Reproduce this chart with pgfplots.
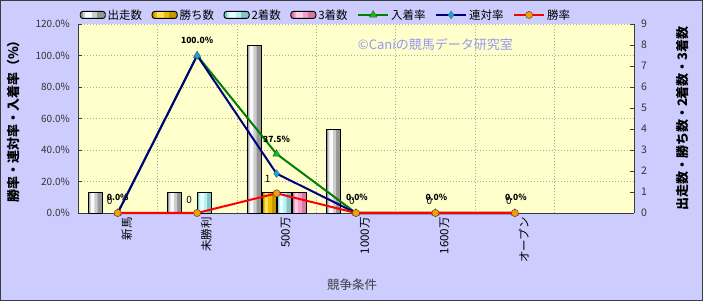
\documentclass[border=0pt]{standalone}
\usepackage{fontspec}
\setmainfont{Noto Sans CJK JP}
\usepackage{pgfplots}
\pgfplotsset{compat=1.18}

\definecolor{outerbg}{RGB}{204,204,255}
\definecolor{plotbg}{RGB}{255,255,204}
\definecolor{framec}{RGB}{60,60,60}
\definecolor{gridc}{RGB}{170,170,160}
\definecolor{copyc}{RGB}{150,150,245}
% bar gradients: dark / mid / light
\definecolor{runD}{RGB}{150,150,150}
\definecolor{runM}{RGB}{205,205,205}
\definecolor{runL}{RGB}{250,250,250}
\definecolor{winD}{RGB}{200,150,0}
\definecolor{winM}{RGB}{240,190,0}
\definecolor{winL}{RGB}{255,225,90}
\definecolor{secD}{RGB}{130,195,195}
\definecolor{secM}{RGB}{185,240,240}
\definecolor{secL}{RGB}{230,255,255}
\definecolor{thrD}{RGB}{215,120,165}
\definecolor{thrM}{RGB}{245,160,200}
\definecolor{thrL}{RGB}{255,205,230}
\definecolor{greenl}{RGB}{0,128,0}
\definecolor{greenm}{RGB}{0,204,0}
\definecolor{navyl}{RGB}{0,0,128}
\definecolor{orangem}{RGB}{255,153,0}

\pgfplotsset{
  base/.style={scale only axis, width=556bp, height=189bp, xmin=-0.5, xmax=6.5,
    axis line style={framec, line width=0.8bp},
    tick style={framec, line width=0.6bp},
    major tick length=4bp, tick align=inside,
    /pgf/number format/assume math mode=true},
  barleg/.style n args={3}{legend image code/.code={
    \fill[#1, rounded corners=2.5bp] (0bp,-3.5bp) rectangle (25bp,3.5bp);
    \fill[#2] (3bp,-2.6bp) rectangle (16bp,2.6bp);
    \fill[#3] (5bp,-2.6bp) rectangle (11bp,2.6bp);
    \draw[black, line width=0.9bp, rounded corners=2.5bp] (0bp,-3.5bp) rectangle (25bp,3.5bp);}},
  lineleg/.style={legend image code/.code={\draw[mark repeat=2,mark phase=2,##1] plot coordinates {(0bp,0bp) (15bp,0bp) (30bp,0bp)};}},
}
\newcommand{\fs}[1]{\fontsize{#1}{#1}\selectfont}
% shaded-looking bar: shift, dark, mid, light, coordinates
\newcommand{\gbar}[5]{%
  \addplot[ybar, bar width=14bp, bar shift=#1bp, fill=#2, draw=none] coordinates {#5};
  \addplot[ybar, bar width=8bp, bar shift=#1bp-1.5bp, fill=#3, draw=none] coordinates {#5};
  \addplot[ybar, bar width=3.5bp, bar shift=#1bp-2.5bp, fill=#4, draw=none] coordinates {#5};
  \addplot[ybar, bar width=14bp, bar shift=#1bp, fill=none, draw=black, line width=0.9bp] coordinates {#5};
}

\begin{document}
\begin{tikzpicture}
\useasboundingbox (-78bp,-88bp) rectangle (625bp,213bp);
\fill[outerbg] (-78bp,-88bp) rectangle (625bp,213bp);
\draw[framec, line width=1.5bp] (-77.25bp,-87.25bp) rectangle (624.25bp,212.25bp);

% background axis: left scale, grid
\begin{axis}[base, ymin=0, ymax=120,
  axis background/.style={fill=plotbg},
  axis x line*=bottom, axis y line*=left,
  ytick={0,20,...,120},
  yticklabel={\pgfmathprintnumber[fixed,fixed zerofill,precision=1]{\tick}\%},
  yticklabel style={font=\fs{10bp}, text=black!80, inner sep=0pt, anchor=east, xshift=-8bp},
  xtick={0.5,1.5,...,5.5}, xticklabels={}, x tick style={draw=none},
  xmajorgrids, ymajorgrids,
  grid style={gridc, dash pattern=on 1.5bp off 1.5bp, line width=0.6bp},
  ylabel={\bfseries 勝率・連対率・入着率（\%）},
  ylabel style={font=\fs{13bp}, at={(axis description cs:-0.115,0.5)}, anchor=center},
  xlabel={競争条件},
  xlabel style={font=\fs{12.5bp}, text=black!75, at={(axis description cs:0.493,-0.381)}, anchor=center},
]
\addplot[draw=none] coordinates {(0,0)};
\node[font=\fs{13bp}, text=copyc, anchor=center] at (axis cs:4.0,107) {©Caniの競馬データ研究室};
\end{axis}

% bars: right scale
\begin{axis}[base, ymin=0, ymax=9, ybar,
  axis x line*=bottom, axis y line*=right,
  ytick={0,1,...,9},
  yticklabel style={font=\fs{10.5bp}, text=black!80, inner sep=0pt, anchor=west, xshift=7bp},
  xtick={0,1,2,3,4,5},
  xticklabels={新馬,未勝利,500万,1000万,1600万,オープン},
  x tick style={draw=none},
  x tick label style={rotate=90, anchor=east, inner sep=0pt, yshift=-9bp, font=\fs{11.5bp}},
  ylabel={\bfseries 出走数・勝ち数・2着数・3着数},
  ylabel style={font=\fs{13bp}, at={(axis description cs:1.088,0.5)}, anchor=center, rotate=0},
]
% 出走数
\gbar{-22.5}{runD}{runM}{runL}{(0,1) (1,1) (2,8) (3,4)}
% 勝ち数
\gbar{-7.5}{winD}{winM}{winL}{(2,1)}
% 2着数
\gbar{7.5}{secD}{secM}{secL}{(1,1) (2,1)}
% 3着数
\gbar{22.5}{thrD}{thrM}{thrL}{(2,1)}
\node[font=\fs{10bp}, anchor=center] at (axis cs:0,0) [xshift=-8bp, yshift=12bp] {0};
\node[font=\fs{10bp}, anchor=center] at (axis cs:1,0) [xshift=-8bp, yshift=13bp] {0};
\node[font=\fs{10bp}, anchor=center] at (axis cs:2,1) [xshift=-9bp, yshift=13bp] {1};
\node[font=\fs{10bp}, anchor=center] at (axis cs:3,0) [xshift=-4bp, yshift=12bp] {0};
\node[font=\fs{10bp}, anchor=center] at (axis cs:4,0) [xshift=-6bp, yshift=12bp] {0};
\node[font=\fs{10bp}, anchor=center] at (axis cs:5,0) [xshift=-6bp, yshift=12bp] {0};
\end{axis}

% lines: left scale
\begin{axis}[base, ymin=0, ymax=120, hide axis, clip=false,
  legend style={at={(axis description cs:0.446,1.048)}, anchor=center, draw=none, fill=none,
    font=\fs{11.5bp}, legend columns=-1, inner sep=0pt,
    /tikz/every even column/.append style={column sep=7.5bp},
    /tikz/every odd column/.append style={column sep=0bp}},
  legend cell align=left,
]
\addlegendimage{barleg={runD}{runM}{runL}}
\addlegendentry{出走数}
\addlegendimage{barleg={winD}{winM}{winL}}
\addlegendentry{勝ち数}
\addlegendimage{barleg={secD}{secM}{secL}}
\addlegendentry{2着数}
\addlegendimage{barleg={thrD}{thrM}{thrL}}
\addlegendentry{3着数}

\addplot[greenl, line width=2bp, mark=triangle*, mark size=4.2bp,
  mark options={fill=greenm, draw=black!70, line width=0.5bp}, lineleg]
  coordinates {(0,0) (1,100) (2,37.5) (3,0) (4,0) (5,0)};
\addlegendentry{入着率}
\addplot[navyl, line width=2bp, mark=diamond*, mark size=3.8bp,
  mark options={fill=cyan, draw=black!60, line width=0.5bp}, lineleg]
  coordinates {(0,0) (1,100) (2,25) (3,0) (4,0) (5,0)};
\addlegendentry{連対率}
\addplot[red, line width=2bp, mark=*, mark size=3.6bp,
  mark options={fill=orangem, draw=black!70, line width=0.5bp}, lineleg]
  coordinates {(0,0) (1,0) (2,12.5) (3,0) (4,0) (5,0)};
\addlegendentry{勝率}

\node[font=\bfseries\fs{8.5bp}, anchor=center] at (axis cs:1,100) [yshift=15bp] {100.0\%};
\node[font=\bfseries\fs{8.5bp}, anchor=center] at (axis cs:2,37.5) [yshift=15bp] {37.5\%};
\node[font=\bfseries\fs{8.5bp}, anchor=center] at (axis cs:0,0) [yshift=16bp] {0.0\%};
\node[font=\bfseries\fs{8.5bp}, anchor=center] at (axis cs:3,0) [xshift=1bp, yshift=16bp] {0.0\%};
\node[font=\bfseries\fs{8.5bp}, anchor=center] at (axis cs:4,0) [xshift=1bp, yshift=16bp] {0.0\%};
\node[font=\bfseries\fs{8.5bp}, anchor=center] at (axis cs:5,0) [xshift=1bp, yshift=16bp] {0.0\%};
\end{axis}
\end{tikzpicture}
\end{document}
